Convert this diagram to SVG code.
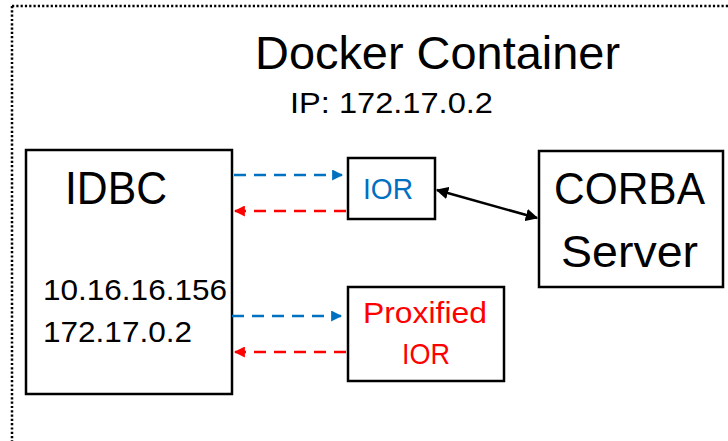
<svg xmlns="http://www.w3.org/2000/svg" width="728" height="441" viewBox="0 0 728 441">
<style>
text{font-family:"Liberation Sans",Arial,sans-serif;fill:#000}
.box{fill:#fff;stroke:#000;stroke-width:2.5}
.blue{stroke:#0070C0;stroke-width:2.5;stroke-dasharray:12 8;fill:none}
.red{stroke:#FF0000;stroke-width:2.5;stroke-dasharray:12 8;fill:none}
</style>
<defs>
<marker id="ab" viewBox="0 0 10 10" refX="9" refY="5" markerWidth="4.4" markerHeight="4.4" orient="auto"><path d="M0,0 L10,5 L0,10 z" fill="#0070C0"/></marker>
<marker id="ar" viewBox="0 0 10 10" refX="9" refY="5" markerWidth="4.4" markerHeight="4.4" orient="auto"><path d="M0,0 L10,5 L0,10 z" fill="#FF0000"/></marker>
<marker id="ak" viewBox="0 0 10 10" refX="9" refY="5" markerWidth="5" markerHeight="5" orient="auto-start-reverse"><path d="M0,0 L10,5 L0,10 z" fill="#000"/></marker>
</defs>
<rect width="728" height="441" fill="#fff"/>
<g id="container">
<path d="M12,6 H728 M12,6 V441" stroke="#000" stroke-width="2.5" stroke-dasharray="2.2 2.1" fill="none"/>
<text x="255" y="69" font-size="47" textLength="365" lengthAdjust="spacingAndGlyphs">Docker Container</text>
<text x="290" y="113" font-size="29" textLength="203" lengthAdjust="spacingAndGlyphs">IP: 172.17.0.2</text>
</g>
<g id="idbc">
<rect class="box" x="26" y="150" width="206" height="244"/>
<text x="65" y="204" font-size="46" textLength="102" lengthAdjust="spacingAndGlyphs">IDBC</text>
<text x="43" y="300" font-size="30" textLength="184" lengthAdjust="spacingAndGlyphs">10.16.16.156</text>
<text x="43" y="342" font-size="30" textLength="149" lengthAdjust="spacingAndGlyphs">172.17.0.2</text>
</g>
<g id="ior">
<rect class="box" x="348" y="158" width="87" height="61"/>
<text x="363" y="199" font-size="29" textLength="50" lengthAdjust="spacingAndGlyphs" style="fill:#0070C0">IOR</text>
</g>
<g id="proxified">
<rect class="box" x="348" y="287" width="156" height="94"/>
<text x="363" y="323" font-size="29" textLength="124" lengthAdjust="spacingAndGlyphs" style="fill:#FF0000">Proxified</text>
<text x="402" y="364" font-size="29" textLength="48" lengthAdjust="spacingAndGlyphs" style="fill:#FF0000">IOR</text>
</g>
<g id="corba">
<rect class="box" x="539" y="151" width="184" height="136"/>
<text x="554" y="204" font-size="45" textLength="151" lengthAdjust="spacingAndGlyphs">CORBA</text>
<text x="561" y="267" font-size="45" textLength="137" lengthAdjust="spacingAndGlyphs">Server</text>
</g>
<g id="connectors">
<line class="blue" x1="234" y1="175" x2="342" y2="175" marker-end="url(#ab)"/>
<line class="red" x1="346" y1="211" x2="235" y2="211" marker-end="url(#ar)"/>
<line class="blue" x1="232" y1="316" x2="341" y2="316" marker-end="url(#ab)"/>
<line class="red" x1="346" y1="352" x2="235" y2="352" marker-end="url(#ar)"/>
<line x1="437" y1="190" x2="537" y2="218" stroke="#000" stroke-width="2.5" marker-start="url(#ak)" marker-end="url(#ak)"/>
</g>
</svg>
